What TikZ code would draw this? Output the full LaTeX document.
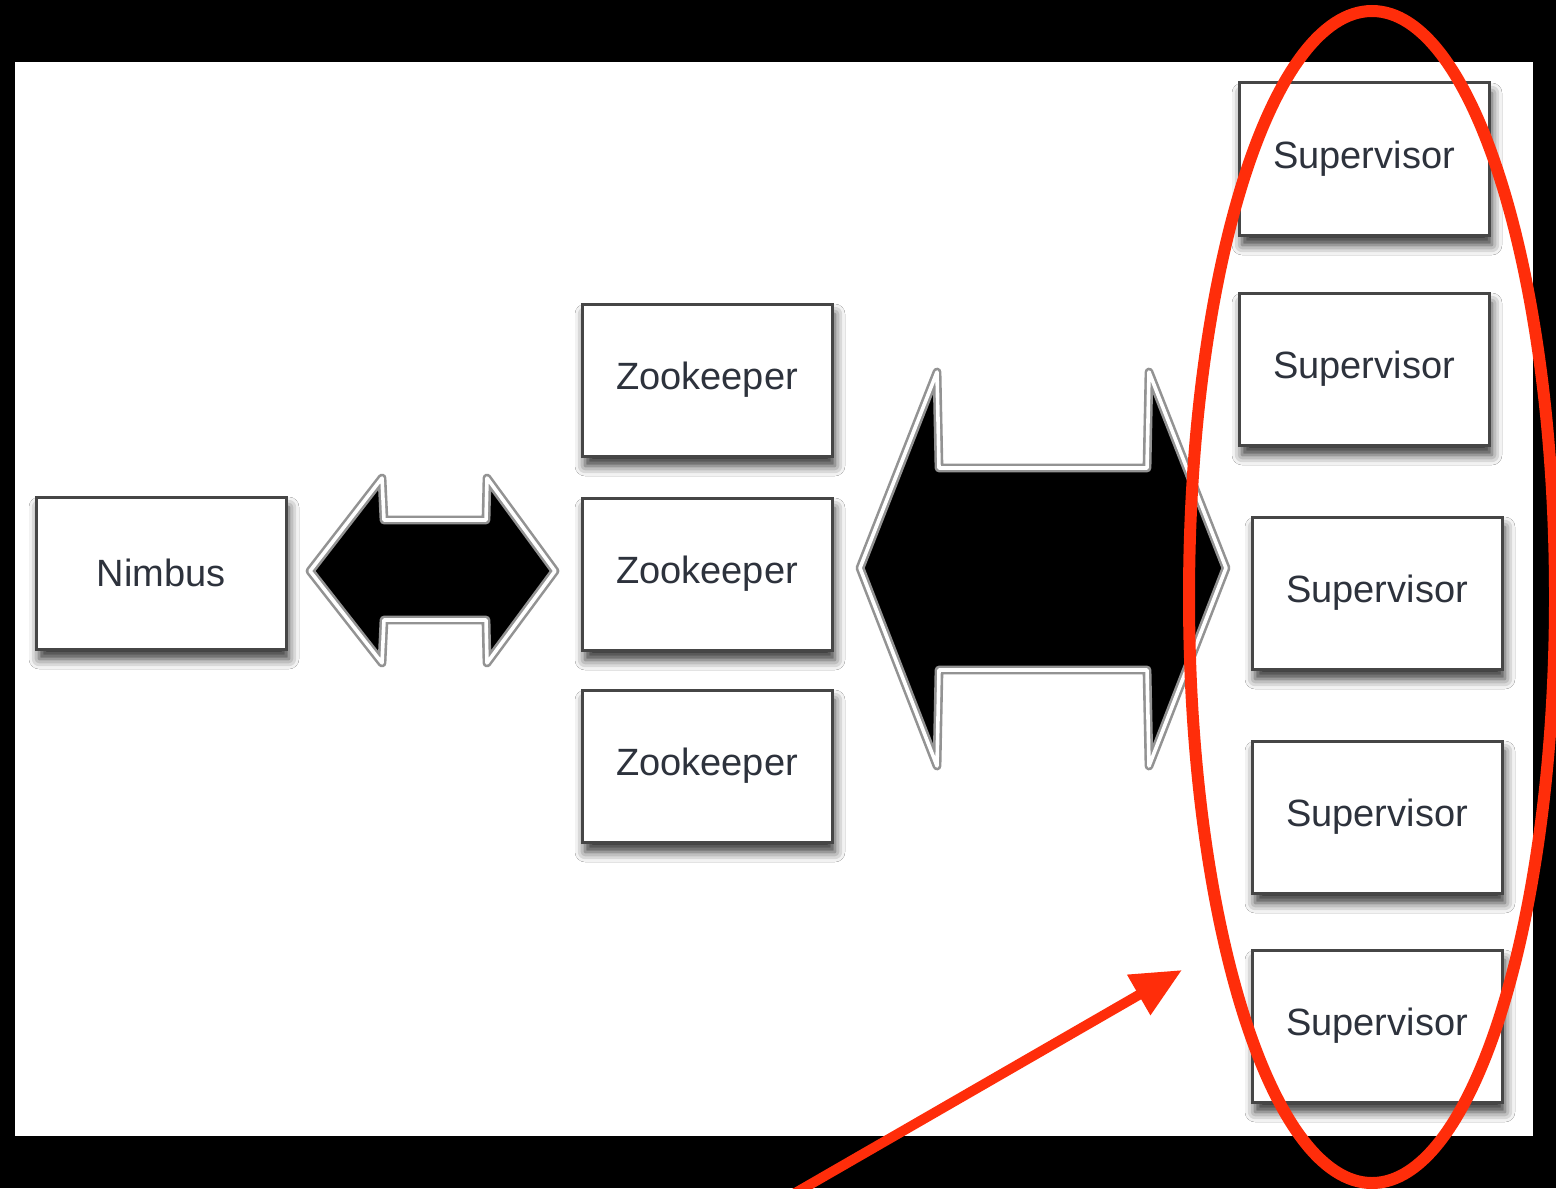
\documentclass[tikz,border=0pt]{standalone}
\usepackage{fontspec}
\setmainfont{Liberation Sans}
\usetikzlibrary{shadows.blur,arrows.meta}
\definecolor{txtgrey}{RGB}{45,50,60}
\definecolor{boxline}{RGB}{70,70,70}
\definecolor{annot}{RGB}{255,45,10}
\tikzset{
  box/.style={draw=boxline, line width=1.5pt, fill=white, minimum width=125pt, minimum height=76pt,
    inner sep=0pt, font=\fontsize{19}{22}\selectfont, text=txtgrey,
    blur shadow={shadow xshift=1.5pt, shadow yshift=-5pt, shadow blur radius=5pt, shadow opacity=80}},
  fatarrow/.style={fill=black, draw=gray!85, line width=1.3pt, double=white, double distance=1.8pt, line join=round},
  annotline/.style={draw=annot, line width=6pt},
  annotarrow/.style={draw=annot, line width=5pt}
}
\begin{document}
\begin{tikzpicture}[x=0.5pt,y=-0.5pt]
\useasboundingbox (0,0) rectangle (1556,1188);
\clip (0,0) rectangle (1556,1188);
\fill[black] (0,0) rectangle (1556,1188);
\fill[white] (15,62) rectangle (1533,1136);

% boxes
\node[box] (nimbus) at (161,573) {Nimbus};
\node[box] (zk1) at (707,380) {Zookeeper};
\node[box] (zk2) at (707,574) {Zookeeper};
\node[box] (zk3) at (707,766) {Zookeeper};
\node[box] (sv1) at (1364,159) {Supervisor};
\node[box] (sv2) at (1364,369) {Supervisor};
\node[box] (sv3) at (1377,593) {Supervisor};
\node[box] (sv4) at (1377,817) {Supervisor};
\node[box] (sv5) at (1377,1026) {Supervisor};

% small double arrow (Nimbus <-> Zookeepers)
\draw[fatarrow] (310,571) -- (382,478) -- (384,520) -- (486,520) -- (487,478) -- (555,571)
  -- (487,663) -- (486,620) -- (384,620) -- (382,663) -- cycle;

% large double arrow (Zookeepers <-> Supervisors)
\draw[fatarrow] (860,568) -- (937,372) -- (939,468) -- (1147,468) -- (1149,372) -- (1226,568)
  -- (1149,766) -- (1147,670) -- (939,670) -- (937,766) -- cycle;

% red annotation
\draw[annotline] (1372,597) ellipse (183 and 586);
\coordinate (arrowstart) at (790,1196);
\coordinate (arrowtip) at (1182,970);
\draw[annotarrow, -{Triangle[length=25pt,width=22pt]}] (arrowstart) -- (arrowtip);
\end{tikzpicture}
\end{document}
